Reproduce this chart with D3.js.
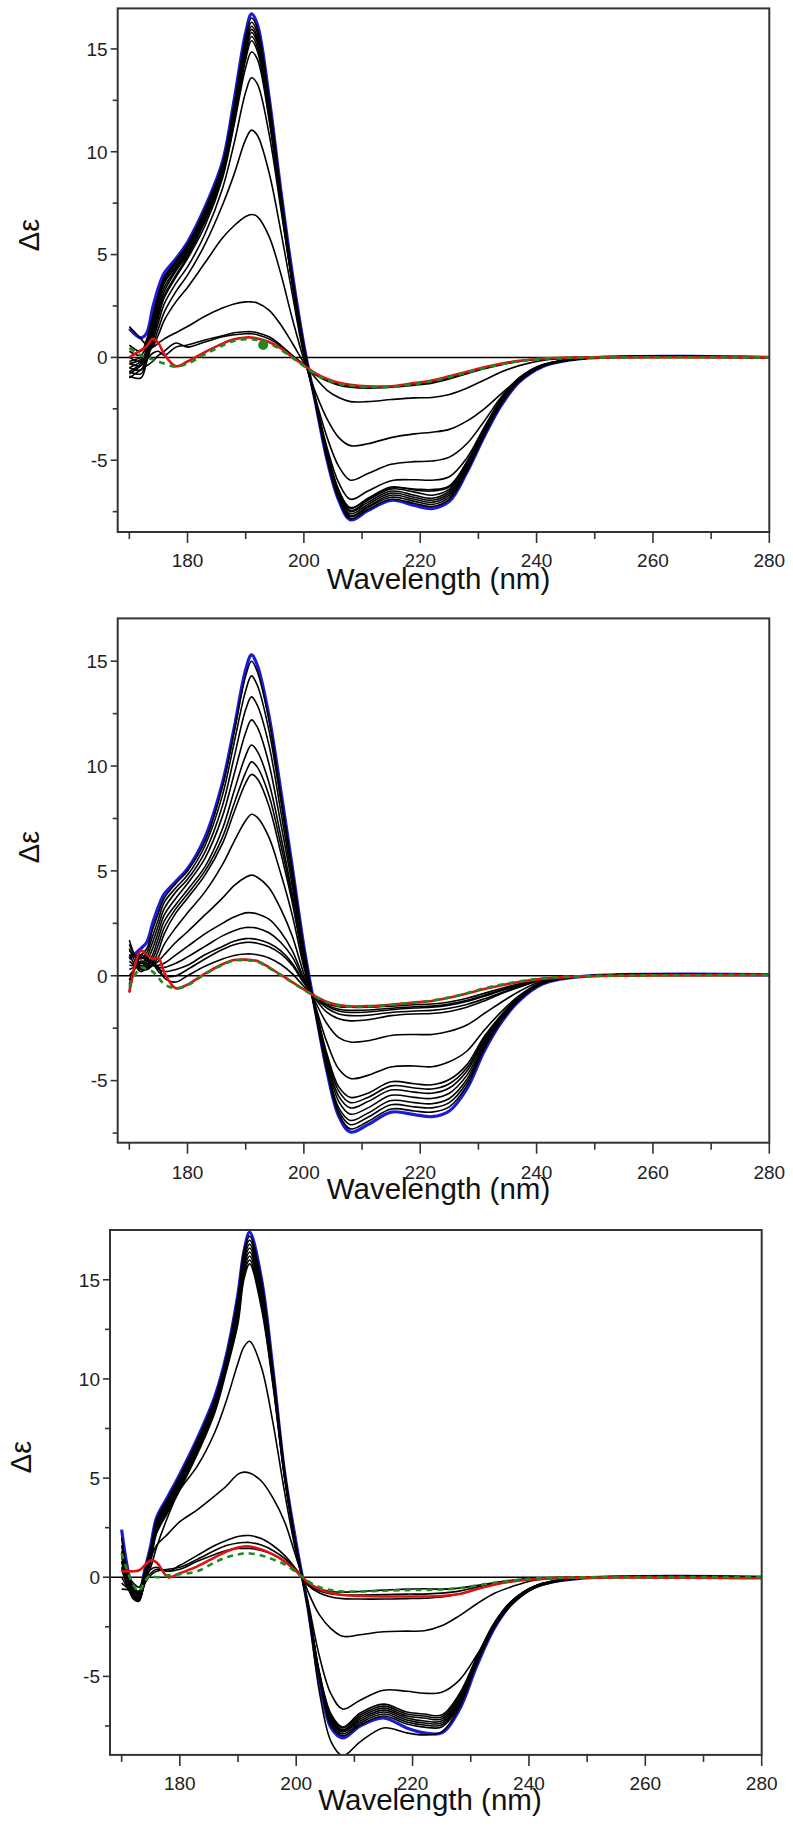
<!DOCTYPE html>
<html><head><meta charset="utf-8">
<script src="https://cdn.jsdelivr.net/npm/d3@7"></script>
<style>body{margin:0;background:#fff}svg{display:block}</style>
</head><body>
<svg id="chart" width="793" height="1826"></svg>
<script>
// ---------- DATA ----------
const wavelengths = [170,172,173,174,175,176,178,180,183,186,188,190,191,192,194,196,198,200,202,204,206,208,211,215,219,222,225,228,231,234,237,241,248,280];
const xMajorTicks = [180,200,220,240,260,280];
const xMinorTicks = [170,190,210,230,250,270];
const yMajorTicks = [-5,0,5,10,15];
const yMinorTicks = [-7.5,-2.5,2.5,7.5,12.5,17.5];
const xTitle = "Wavelength (nm)";
const yTitle = "Δε";

// Panel 1
const p1Blue  = [1.4,0.95,1.2,2.4,3.4,4.1,4.8,5.6,7.3,9.5,12.5,15.8,16.7,16.2,12.7,8.2,4.1,0.6,-2.2,-5.0,-6.95,-7.9,-7.45,-6.95,-7.2,-7.35,-7.0,-5.6,-3.85,-2.3,-1.2,-0.45,-0.05,0];
const p1Red   = [0.0,0.35,0.55,0.9,0.7,0.15,-0.43,-0.2,0.26,0.67,0.88,0.97,0.97,0.92,0.75,0.45,0.02,-0.38,-0.78,-1.05,-1.23,-1.33,-1.4,-1.4,-1.25,-1.12,-0.92,-0.7,-0.48,-0.3,-0.17,-0.05,0,0];
const p1Green = [0.45,0.1,0.0,-0.1,-0.2,-0.3,-0.45,-0.3,0.15,0.58,0.8,0.88,0.88,0.84,0.68,0.38,-0.02,-0.42,-0.82,-1.1,-1.28,-1.38,-1.44,-1.44,-1.3,-1.16,-0.96,-0.74,-0.52,-0.33,-0.19,-0.07,-0.01,0];
const p1GreenDot = [193, 0.6];
const p1Black = [
 [0.6,0.3,0.9,2.0,3.1,3.9,4.7,5.5,7.2,9.4,12.3,15.6,16.5,16.0,12.6,8.1,4.0,0.55,-2.2,-4.95,-6.9,-7.85,-7.4,-6.9,-7.1,-7.25,-6.9,-5.55,-3.8,-2.25,-1.18,-0.44,-0.05,0],
 [0.3,0.1,0.7,1.8,2.9,3.8,4.6,5.4,7.1,9.3,12.1,15.4,16.3,15.8,12.4,8.0,3.9,0.5,-2.2,-4.9,-6.85,-7.75,-7.3,-6.8,-7.0,-7.15,-6.8,-5.5,-3.75,-2.2,-1.16,-0.43,-0.05,0],
 [0.0,-0.2,0.5,1.6,2.8,3.7,4.5,5.3,7.0,9.2,12.0,15.2,16.1,15.6,12.3,7.9,3.8,0.5,-2.2,-4.85,-6.8,-7.7,-7.25,-6.7,-6.9,-7.05,-6.7,-5.45,-3.7,-2.15,-1.14,-0.42,-0.05,0],
 [-0.3,-0.4,0.3,1.4,2.6,3.6,4.4,5.2,6.9,9.1,11.9,15.05,15.95,15.45,12.15,7.8,3.75,0.45,-2.2,-4.8,-6.7,-7.6,-7.15,-6.6,-6.8,-6.95,-6.6,-5.4,-3.65,-2.12,-1.12,-0.41,-0.05,0],
 [-0.5,-0.6,0.1,1.2,2.4,3.4,4.3,5.1,6.8,9.0,11.7,14.9,15.8,15.3,12.0,7.7,3.7,0.45,-2.15,-4.75,-6.6,-7.5,-7.05,-6.5,-6.7,-6.85,-6.5,-5.3,-3.6,-2.1,-1.1,-0.4,-0.05,0],
 [-0.7,-0.8,-0.1,1.0,2.2,3.2,4.2,5.0,6.7,8.9,11.6,14.7,15.6,15.1,11.85,7.6,3.65,0.4,-2.15,-4.7,-6.55,-7.45,-6.95,-6.4,-6.55,-6.7,-6.4,-5.2,-3.55,-2.05,-1.08,-0.4,-0.05,0],
 [-0.9,-1.0,-0.2,0.8,2.0,3.0,4.0,4.9,6.6,8.8,11.4,14.5,15.4,14.9,11.7,7.5,3.6,0.4,-2.1,-4.6,-6.45,-7.35,-6.85,-6.3,-6.45,-6.5,-6.3,-5.1,-3.5,-2.02,-1.06,-0.39,-0.05,0],
 [-0.7,-0.3,0.2,1.0,2.0,2.9,3.9,4.8,6.4,8.7,11.3,14.1,14.85,14.5,11.6,7.6,3.7,0.3,-2.15,-4.6,-6.5,-7.3,-6.9,-6.35,-6.4,-6.43,-6.25,-5.1,-3.45,-2.0,-1.05,-0.4,-0.05,0],
 [-0.5,-0.2,0.2,0.8,1.7,2.6,3.6,4.4,6.0,8.2,10.4,12.9,13.6,13.3,10.9,7.3,3.6,0.25,-2.1,-4.4,-6.1,-6.9,-6.5,-6.0,-5.95,-5.97,-5.8,-4.9,-3.4,-2.0,-1.0,-0.36,-0.05,0],
 [-0.3,-0.1,0.2,0.6,1.4,2.2,3.2,4.0,5.5,7.4,8.9,10.6,11.05,10.8,9.0,6.2,3.1,0.1,-2.0,-3.9,-5.3,-5.97,-5.65,-5.2,-5.07,-5.04,-4.85,-4.2,-3.1,-1.9,-1.0,-0.36,-0.05,0],
 [-0.2,0.0,0.2,0.5,1.1,1.8,2.7,3.4,4.6,5.8,6.4,6.85,6.95,6.85,5.9,4.1,1.9,-0.1,-1.7,-3.0,-3.9,-4.29,-4.2,-3.9,-3.72,-3.64,-3.5,-3.1,-2.5,-1.75,-1.05,-0.4,-0.06,0],
 [1.5,0.9,0.6,0.5,0.7,0.9,1.2,1.5,2.0,2.4,2.6,2.7,2.7,2.65,2.3,1.6,0.7,-0.25,-1.0,-1.6,-1.95,-2.15,-2.15,-2.05,-1.97,-1.95,-1.8,-1.5,-1.1,-0.7,-0.4,-0.15,-0.02,0],
 [-0.8,-0.4,-0.1,0.2,0.3,0.1,0.5,0.6,0.85,1.05,1.2,1.25,1.25,1.2,1.0,0.6,0.1,-0.35,-0.85,-1.15,-1.35,-1.45,-1.5,-1.45,-1.35,-1.25,-1.05,-0.8,-0.55,-0.35,-0.2,-0.08,0,0],
 [-1.0,-0.6,-0.4,-0.2,0.1,0.3,0.7,0.5,0.75,1.0,1.1,1.15,1.15,1.1,0.9,0.55,0.1,-0.35,-0.8,-1.1,-1.3,-1.38,-1.43,-1.4,-1.3,-1.18,-1.0,-0.75,-0.52,-0.33,-0.18,-0.07,0,0]
];

// Panel 2
const p2Blue  = [0.8,1.3,1.6,2.5,3.3,3.9,4.5,5.1,6.6,9.2,11.8,14.6,15.3,14.8,12.4,8.9,5.2,1.4,-1.7,-4.6,-6.7,-7.45,-7.1,-6.5,-6.62,-6.72,-6.45,-5.4,-3.6,-2.2,-1.2,-0.4,-0.03,0.05];
const p2Red   = [-0.78,1.2,1.0,0.8,0.85,0.15,-0.6,-0.42,0.1,0.55,0.75,0.77,0.75,0.7,0.4,0.05,-0.3,-0.65,-0.98,-1.25,-1.4,-1.46,-1.45,-1.38,-1.28,-1.2,-1.05,-0.85,-0.63,-0.45,-0.3,-0.15,-0.03,0.05];
const p2Green = [-0.5,0.4,0.3,0.2,-0.1,-0.4,-0.6,-0.45,0.08,0.52,0.72,0.74,0.72,0.67,0.38,0.03,-0.32,-0.67,-1.0,-1.27,-1.42,-1.47,-1.46,-1.38,-1.27,-1.18,-1.03,-0.83,-0.6,-0.42,-0.27,-0.12,-0.02,0.05];
const p2Black = [
 [1.0,1.0,1.3,2.2,3.0,3.7,4.4,5.0,6.4,9.0,11.6,14.3,15.0,14.5,12.2,8.7,5.1,1.3,-1.75,-4.55,-6.6,-7.3,-6.95,-6.35,-6.45,-6.5,-6.25,-5.25,-3.5,-2.15,-1.15,-0.38,-0.03,0.05],
 [1.2,0.8,1.1,1.9,2.7,3.5,4.2,4.8,6.2,8.6,11.1,13.6,14.3,13.85,11.7,8.4,4.9,1.2,-1.75,-4.45,-6.45,-7.1,-6.75,-6.15,-6.25,-6.3,-6.05,-5.1,-3.4,-2.1,-1.12,-0.37,-0.03,0.05],
 [1.5,0.6,0.9,1.6,2.4,3.2,4.0,4.6,5.9,8.1,10.4,12.7,13.3,12.9,11.0,7.9,4.6,1.1,-1.75,-4.35,-6.3,-6.9,-6.55,-5.95,-6.05,-6.1,-5.85,-4.95,-3.3,-2.05,-1.1,-0.36,-0.03,0.05],
 [1.7,0.4,0.7,1.3,2.1,2.9,3.7,4.4,5.6,7.6,9.6,11.6,12.2,11.85,10.1,7.3,4.3,0.95,-1.7,-4.2,-6.0,-6.6,-6.3,-5.7,-5.8,-5.85,-5.6,-4.75,-3.2,-2.0,-1.08,-0.35,-0.03,0.05],
 [1.3,0.3,0.5,1.0,1.8,2.6,3.4,4.1,5.2,7.0,8.8,10.5,11.0,10.7,9.2,6.7,3.9,0.8,-1.65,-4.05,-5.75,-6.3,-6.0,-5.45,-5.55,-5.6,-5.35,-4.55,-3.1,-1.95,-1.05,-0.34,-0.03,0.05],
 [1.0,0.2,0.4,0.8,1.5,2.3,3.2,3.9,5.0,6.6,8.2,9.7,10.2,9.95,8.6,6.3,3.7,0.7,-1.6,-3.9,-5.5,-6.05,-5.8,-5.25,-5.35,-5.4,-5.15,-4.4,-3.0,-1.9,-1.03,-0.33,-0.03,0.05],
 [0.7,0.3,0.3,0.6,1.2,2.0,3.0,3.7,4.8,6.3,7.8,9.2,9.6,9.4,8.1,5.9,3.5,0.6,-1.55,-3.75,-5.3,-5.8,-5.6,-5.05,-5.15,-5.2,-4.95,-4.25,-2.9,-1.85,-1.0,-0.32,-0.03,0.05],
 [0.5,0.4,0.3,0.5,0.9,1.5,2.3,3.0,4.0,5.3,6.4,7.4,7.7,7.55,6.6,4.9,2.9,0.4,-1.45,-3.2,-4.45,-4.9,-4.75,-4.35,-4.3,-4.34,-4.1,-3.6,-2.6,-1.7,-0.95,-0.3,-0.03,0.05],
 [0.3,0.5,0.4,0.5,0.7,1.0,1.6,2.1,2.9,3.7,4.3,4.7,4.8,4.7,4.2,3.2,1.9,0.1,-1.25,-2.3,-2.95,-3.16,-3.1,-2.85,-2.8,-2.8,-2.65,-2.35,-1.8,-1.25,-0.75,-0.25,-0.02,0.05],
 [0.0,0.6,0.5,0.5,0.5,0.6,1.0,1.4,2.0,2.5,2.8,3.0,3.0,2.95,2.7,2.1,1.2,-0.1,-1.1,-1.75,-2.05,-2.15,-2.1,-1.9,-1.82,-1.8,-1.7,-1.5,-1.2,-0.85,-0.55,-0.2,-0.02,0.05],
 [-0.2,0.7,0.6,0.6,0.4,0.4,0.6,0.9,1.4,1.9,2.15,2.3,2.3,2.27,2.05,1.6,0.9,-0.2,-1.05,-1.55,-1.82,-1.9,-1.88,-1.75,-1.68,-1.65,-1.55,-1.37,-1.1,-0.8,-0.5,-0.18,-0.02,0.05],
 [-0.4,0.9,0.7,0.7,0.3,0.2,0.3,0.5,1.0,1.4,1.65,1.77,1.77,1.73,1.55,1.2,0.6,-0.3,-1.0,-1.45,-1.68,-1.75,-1.73,-1.62,-1.54,-1.5,-1.4,-1.23,-0.98,-0.7,-0.45,-0.16,-0.02,0.05],
 [-0.6,1.0,0.8,0.6,0.2,0.0,0.0,0.3,0.8,1.25,1.48,1.59,1.59,1.55,1.38,1.05,0.5,-0.35,-1.0,-1.4,-1.6,-1.65,-1.63,-1.55,-1.48,-1.45,-1.35,-1.17,-0.93,-0.67,-0.43,-0.15,-0.02,0.05],
 [-0.8,1.2,0.9,0.5,0.4,-0.1,-0.3,0.0,0.45,0.8,0.97,1.04,1.04,1.0,0.85,0.55,0.1,-0.5,-1.0,-1.33,-1.47,-1.5,-1.5,-1.45,-1.38,-1.35,-1.25,-1.07,-0.84,-0.6,-0.38,-0.14,-0.02,0.05]
];

// Panel 3
const p3Blue  = [2.4,-0.6,-0.8,0.4,1.6,3.0,4.1,5.2,7.0,9.1,11.2,14.3,16.4,17.4,15.1,10.5,5.3,1.7,-1.5,-5.3,-7.6,-8.1,-7.5,-7.1,-7.6,-7.85,-7.85,-6.7,-4.5,-2.6,-1.35,-0.5,-0.08,0];
const p3Red   = [0.3,0.3,0.35,0.6,0.85,0.75,0.0,0.2,0.55,1.0,1.3,1.5,1.55,1.55,1.4,1.15,0.8,0.3,-0.25,-0.6,-0.8,-0.9,-0.95,-0.97,-0.97,-0.97,-0.95,-0.85,-0.6,-0.38,-0.22,-0.1,-0.02,-0.05];
const p3Green = [1.2,-0.4,-0.7,-0.2,0.1,0.0,0.1,0.15,0.3,0.75,1.0,1.15,1.2,1.2,1.1,0.9,0.65,0.25,-0.2,-0.5,-0.65,-0.72,-0.72,-0.68,-0.65,-0.64,-0.62,-0.55,-0.42,-0.28,-0.17,-0.07,-0.01,0];
const p3Black = [
 [2.0,-0.8,-1.0,0.3,1.5,2.9,4.0,5.1,6.9,9.0,11.1,14.2,16.4,17.2,15.0,10.4,5.4,1.5,-1.6,-5.8,-8.3,-9.0,-8.3,-7.6,-7.85,-7.95,-7.8,-6.6,-4.4,-2.55,-1.3,-0.48,-0.07,0],
 [1.6,-0.9,-1.1,0.2,1.4,2.8,3.9,5.0,6.8,8.9,11.0,14.0,16.2,17.0,14.8,10.3,5.3,1.5,-1.45,-5.1,-7.5,-8.0,-7.45,-7.0,-7.4,-7.56,-7.55,-6.5,-4.35,-2.5,-1.3,-0.48,-0.07,0],
 [1.2,-1.0,-1.2,0.1,1.3,2.7,3.8,4.9,6.7,8.8,10.9,13.8,16.0,16.8,14.6,10.2,5.3,1.5,-1.45,-5.05,-7.4,-7.9,-7.35,-6.9,-7.3,-7.45,-7.45,-6.4,-4.3,-2.45,-1.27,-0.47,-0.07,0],
 [0.8,-1.1,-1.2,0.0,1.2,2.6,3.7,4.8,6.6,8.7,10.8,13.6,15.8,16.6,14.4,10.1,5.2,1.5,-1.45,-5.0,-7.3,-7.8,-7.25,-6.8,-7.2,-7.35,-7.35,-6.3,-4.25,-2.42,-1.25,-0.46,-0.07,0],
 [0.4,-1.0,-1.1,-0.1,1.1,2.5,3.6,4.7,6.5,8.6,10.7,13.4,15.6,16.4,14.2,10.0,5.2,1.5,-1.4,-4.95,-7.2,-7.75,-7.15,-6.7,-7.1,-7.25,-7.25,-6.2,-4.2,-2.4,-1.24,-0.46,-0.07,0],
 [0.0,-0.9,-1.0,-0.2,1.0,2.4,3.5,4.6,6.4,8.5,10.6,13.2,15.4,16.2,14.0,9.9,5.1,1.5,-1.4,-4.9,-7.1,-7.7,-7.05,-6.6,-7.0,-7.1,-7.15,-6.1,-4.15,-2.38,-1.23,-0.45,-0.07,0],
 [-0.3,-0.8,-1.1,-0.2,0.9,2.3,3.4,4.5,6.3,8.4,10.5,13.0,15.2,16.0,13.8,9.8,5.1,1.5,-1.4,-4.85,-7.0,-7.6,-6.95,-6.5,-6.9,-7.0,-7.05,-6.0,-4.1,-2.35,-1.22,-0.45,-0.07,0],
 [-0.6,-0.7,-1.0,-0.3,0.8,2.2,3.3,4.4,6.2,8.3,10.4,12.8,15.0,15.8,13.6,9.7,5.0,1.5,-1.35,-4.8,-6.9,-7.55,-6.85,-6.4,-6.8,-6.9,-6.95,-5.9,-4.05,-2.32,-1.2,-0.44,-0.07,0],
 [1.0,-0.5,-0.7,-0.2,0.5,1.5,3.1,4.4,5.6,7.3,8.9,10.8,11.6,11.9,10.6,7.8,4.3,1.2,-1.2,-4.0,-5.9,-6.65,-6.2,-5.7,-5.75,-5.85,-5.8,-5.2,-3.95,-2.5,-1.4,-0.55,-0.08,0],
 [0.5,-0.3,-0.5,0.3,1.0,1.6,2.2,2.8,3.4,4.1,4.6,5.2,5.3,5.25,4.85,4.0,2.8,1.0,-0.7,-1.9,-2.6,-2.98,-2.9,-2.75,-2.72,-2.7,-2.45,-1.95,-1.35,-0.82,-0.48,-0.15,-0.02,0],
 [1.3,-0.6,-0.8,0.0,0.4,0.5,0.3,0.6,1.1,1.6,1.85,2.05,2.1,2.1,1.95,1.6,1.1,0.4,-0.4,-0.8,-1.0,-1.08,-1.1,-1.1,-1.08,-1.06,-1.0,-0.85,-0.6,-0.38,-0.22,-0.08,-0.01,0],
 [0.8,-0.7,-0.9,-0.3,0.1,0.3,0.4,0.5,0.9,1.35,1.6,1.73,1.75,1.75,1.62,1.35,0.95,0.35,-0.35,-0.7,-0.85,-0.9,-0.9,-0.88,-0.85,-0.85,-0.8,-0.7,-0.5,-0.32,-0.18,-0.06,0,0],
 [0.5,-0.5,-0.8,-0.2,0.2,0.4,0.3,0.4,0.8,1.15,1.35,1.45,1.45,1.45,1.35,1.15,0.8,0.3,-0.3,-0.6,-0.72,-0.75,-0.72,-0.65,-0.6,-0.58,-0.6,-0.55,-0.42,-0.28,-0.15,-0.05,0,0]
];

// ---------- LAYOUT ----------
const panels = [
  {blue:p1Blue, red:p1Red, green:p1Green, black:p1Black, dot:p1GreenDot,
   left:117.7, right:769.3, top:8.4, bottom:532, yMin:-8.49, yMax:16.97,
   titleX:438.5, titleY:589, tickLabelY:566.5, ylabX:29, ylabY:235},
  {blue:p2Blue, red:p2Red, green:p2Green, black:p2Black, dot:null,
   left:117.7, right:769.3, top:618.4, bottom:1142.7, yMin:-7.96, yMax:17.04,
   titleX:438.5, titleY:1199, tickLabelY:1179, ylabX:29, ylabY:847},
  {blue:p3Blue, red:p3Red, green:p3Green, black:p3Black, dot:null,
   left:110, right:761.7, top:1230, bottom:1754.9, yMin:-8.96, yMax:17.51,
   titleX:430, titleY:1810, tickLabelY:1790, ylabX:21, ylabY:1457}
];

const svg = d3.select("#chart");
const FONT = "'Liberation Sans', Arial, Helvetica, sans-serif";
const AX = "#333";

panels.forEach((p, i) => {
  const x = d3.scaleLinear().domain([168, 280]).range([p.left, p.right]);
  const y = d3.scaleLinear().domain([p.yMin, p.yMax]).range([p.bottom, p.top]);
  const g = svg.append("g");

  const clipId = "clip" + i;
  svg.append("clipPath").attr("id", clipId).append("rect")
    .attr("x", p.left).attr("y", p.top)
    .attr("width", p.right - p.left).attr("height", p.bottom - p.top);

  const plot = g.append("g").attr("clip-path", `url(#${clipId})`);

  // zero line
  plot.append("line").attr("x1", p.left).attr("x2", p.right)
    .attr("y1", y(0)).attr("y2", y(0)).attr("stroke", "#000").attr("stroke-width", 1.5);

  const line = d3.line()
    .defined(d => d[1] != null && !isNaN(d[1]))
    .x(d => x(d[0])).y(d => y(d[1]))
    .curve(d3.curveCatmullRom.alpha(0.5));
  const pts = arr => wavelengths.map((w, k) => [w, arr[k]]);

  plot.append("path").attr("d", line(pts(p.blue)))
    .attr("fill", "none").attr("stroke", "#1c1cd6").attr("stroke-width", 3.2);

  p.black.forEach(s => {
    plot.append("path").attr("d", line(pts(s)))
      .attr("fill", "none").attr("stroke", "#000").attr("stroke-width", 1.6);
  });

  plot.append("path").attr("d", line(pts(p.red)))
    .attr("fill", "none").attr("stroke", "#e01010").attr("stroke-width", 2.6);
  plot.append("path").attr("d", line(pts(p.green)))
    .attr("fill", "none").attr("stroke", "#1f8a1f").attr("stroke-width", 2.6)
    .attr("stroke-dasharray", "6,5");

  if (p.dot) {
    plot.append("circle").attr("cx", x(p.dot[0])).attr("cy", y(p.dot[1]))
      .attr("r", 5).attr("fill", "#1f8a1f");
  }

  // frame
  g.append("rect").attr("x", p.left).attr("y", p.top)
    .attr("width", p.right - p.left).attr("height", p.bottom - p.top)
    .attr("fill", "none").attr("stroke", AX).attr("stroke-width", 2);

  // x ticks
  xMajorTicks.forEach(t => {
    g.append("line").attr("x1", x(t)).attr("x2", x(t)).attr("y1", p.bottom).attr("y2", p.bottom + 11)
      .attr("stroke", AX).attr("stroke-width", 1.6);
    g.append("text").attr("x", x(t)).attr("y", p.tickLabelY).attr("text-anchor", "middle")
      .attr("font-family", FONT).attr("font-size", 19).attr("fill", "#222").text(t);
  });
  xMinorTicks.forEach(t => {
    g.append("line").attr("x1", x(t)).attr("x2", x(t)).attr("y1", p.bottom).attr("y2", p.bottom + 7)
      .attr("stroke", AX).attr("stroke-width", 1.6);
  });

  // y ticks
  yMajorTicks.forEach(t => {
    g.append("line").attr("x1", p.left - 7).attr("x2", p.left).attr("y1", y(t)).attr("y2", y(t))
      .attr("stroke", AX).attr("stroke-width", 1.6);
    g.append("text").attr("x", p.left - 10).attr("y", y(t)).attr("dy", "0.36em")
      .attr("text-anchor", "end").attr("font-family", FONT).attr("font-size", 19)
      .attr("fill", "#222").text(t);
  });
  yMinorTicks.filter(t => t > p.yMin && t < p.yMax - 0.05).forEach(t => {
    g.append("line").attr("x1", p.left - 5).attr("x2", p.left).attr("y1", y(t)).attr("y2", y(t))
      .attr("stroke", AX).attr("stroke-width", 1.6);
  });

  // titles
  g.append("text").attr("x", p.titleX).attr("y", p.titleY).attr("text-anchor", "middle")
    .attr("font-family", FONT).attr("font-size", 29.5).attr("fill", "#111").text(xTitle);
  g.append("text")
    .attr("transform", `translate(${p.ylabX},${p.ylabY}) rotate(-90)`)
    .attr("text-anchor", "middle").attr("dy", "0.35em")
    .attr("font-family", FONT).attr("font-size", 29).attr("fill", "#111").text(yTitle);
});
</script>
</body></html>
